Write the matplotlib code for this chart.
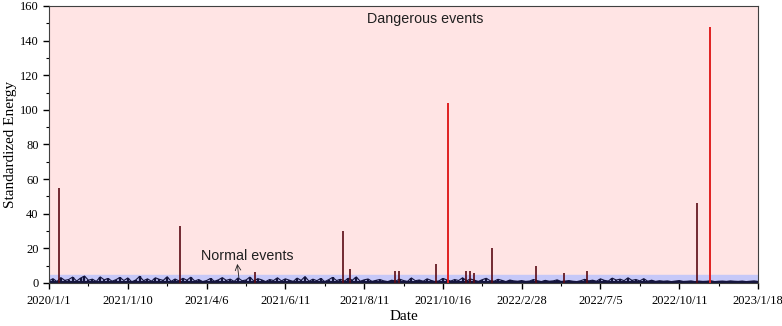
import matplotlib
matplotlib.use('Agg')
from matplotlib import pyplot as plt
from matplotlib.ticker import MultipleLocator

# x axis is the event sequence; the date labels sit on evenly spaced ticks
tick_pos = [0, 100, 200, 300, 400, 500, 600, 700, 800, 900]
tick_labels = ['2020/1/1', '2021/1/10', '2021/4/6', '2021/6/11', '2021/8/11',
               '2021/10/16', '2022/2/28', '2022/7/5', '2022/10/11', '2023/1/18']

# background "normal" energy, one value every 5 events
base_vals = [
    1.2, 2.5, 0.8, 3.1, 1.5, 2.0, 3.4, 1.1, 2.8, 4.0, 1.6, 2.2, 0.9, 3.5, 1.8,
    2.6, 1.0, 1.9, 3.2, 1.4, 2.9, 0.7, 1.7, 3.8, 1.3, 2.4, 1.0, 3.0, 2.1, 1.5,
    3.6, 0.9, 2.3, 1.2, 2.7, 1.6, 3.3, 1.1, 2.0, 0.8, 1.4, 2.6, 1.0, 1.8, 3.1,
    1.5, 2.2, 0.9, 2.9, 1.3, 1.7, 3.4, 1.1, 2.5, 1.8, 0.8, 2.0, 1.4, 3.0, 1.2,
    2.4, 1.6, 0.9, 2.8, 1.5, 3.7, 1.0, 2.2, 1.3, 2.6, 0.8, 1.9, 3.2, 1.4, 2.1,
    1.1, 2.7, 1.6, 3.5, 1.0, 1.8, 2.3, 0.9, 1.5, 2.0, 1.2, 0.8, 1.6, 1.1, 2.2,
    1.4, 0.9, 2.9, 1.3, 1.7, 1.0, 2.4, 1.5, 0.8, 1.2, 2.6, 1.8, 1.1, 2.0, 1.4,
    3.0, 1.2, 2.3, 1.6, 0.9, 1.9, 2.7, 1.3, 1.0, 2.1, 1.5, 0.8, 1.7, 1.2, 1.0,
    1.4, 0.9, 1.1, 2.0, 1.3, 0.8, 1.5, 1.0, 1.2, 1.8, 0.9, 1.1, 1.4, 1.0, 0.8,
    1.3, 2.1, 1.2, 1.6, 1.0, 2.4, 1.5, 1.1, 2.8, 1.7, 2.2, 1.3, 3.0, 1.5, 2.0,
    1.2, 2.5, 1.0, 1.6, 0.9, 1.3, 1.0, 1.2, 0.8, 1.1, 1.4, 0.9, 1.0, 1.2, 0.8,
    1.1, 0.9, 1.0, 1.3, 0.8, 1.0, 1.1, 0.9, 1.2, 1.0, 0.9, 1.1, 0.8, 1.0, 1.2,
    0.9,
]
base_idx = [i * 5 for i in range(len(base_vals))]

# larger events
spike_idx = [13, 166, 261, 373, 382, 439, 444, 491, 529, 534, 539, 562, 618, 654, 683, 823]
spike_val = [55, 33, 6.5, 30, 8, 7, 7, 11, 7, 7, 6, 20, 10, 5.5, 7, 46]
# the two dangerous red ones
red_idx = [506, 839]
red_val = [104, 148]

normal_limit = 4.5

fig = plt.figure(figsize=(7.82, 3.26), dpi=100)
ax = fig.add_axes([0.0627, 0.132, 0.9066, 0.8496])

ax.axhspan(normal_limit, 160, color='#ffe4e4', zorder=0)
ax.axhspan(0, normal_limit, color='#c6c8f8', zorder=0)

ax.fill_between(base_idx, 0, 1.2, color='#14143c', lw=0, zorder=2)
ax.vlines(base_idx, 0, base_vals, color='#14143c', lw=1.7, zorder=2)
ax.plot(base_idx, base_vals, color='#14143c', lw=0.8, zorder=2)
ax.vlines(spike_idx, 0, spike_val, color='#5a0a14', lw=1.2, zorder=3)
ax.vlines(red_idx, 0, red_val, color='#e02020', lw=1.4, zorder=3)

ax.set_xlim(0, 900)
ax.set_ylim(0, 160)
ax.set_xticks(tick_pos)
ax.set_xticklabels(tick_labels, fontfamily='Liberation Serif', fontsize=9)
ax.xaxis.set_minor_locator(MultipleLocator(50))
ax.yaxis.set_major_locator(MultipleLocator(20))
ax.yaxis.set_minor_locator(MultipleLocator(10))
for lab in ax.get_yticklabels():
    lab.set_fontfamily('Liberation Serif')
    lab.set_fontsize(9)
ax.tick_params(which='major', direction='out', length=4, width=1)
ax.tick_params(which='minor', direction='out', length=2, width=0.8)
ax.tick_params(axis='x', pad=5)
for sp in ax.spines.values():
    sp.set_color('#404040')

ax.set_xlabel('Date', fontfamily='Liberation Serif', fontsize=11, labelpad=2)
ax.set_ylabel('Standardized Energy', fontfamily='Liberation Serif', fontsize=11, labelpad=2)

ax.text(477, 152.5, 'Dangerous events', fontfamily='Liberation Sans', fontsize=10.3,
        ha='center', va='center', color='#202020')
ax.text(193, 15.8, 'Normal events', fontfamily='Liberation Sans', fontsize=10.3,
        ha='left', va='center', color='#202020')
ax.annotate('', xy=(239, 11), xytext=(241, 3),
            arrowprops=dict(arrowstyle='->', color='#202020', lw=0.6,
                            shrinkA=0, shrinkB=0))

plt.savefig('out.png')
